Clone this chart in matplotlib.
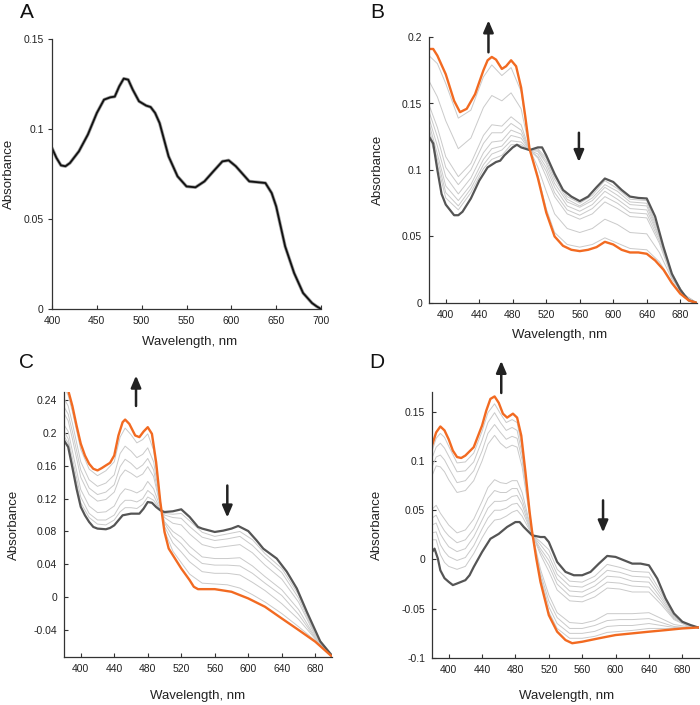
import matplotlib
matplotlib.use('Agg')
import matplotlib.pyplot as plt

plt.rcParams['font.family'] = ['Liberation Sans', 'DejaVu Sans']
plt.rcParams['axes.unicode_minus'] = False

# ---------------- Panel A ----------------
A_WL = [400, 405, 410, 415, 420, 430, 440, 450, 458, 465, 470, 475, 480, 485, 490, 497,
        505, 510, 515, 520, 530, 540, 550, 560, 570, 580, 590, 597, 605, 615, 620, 630,
        638, 645, 650, 655, 660, 665, 670, 680, 690, 695, 700]
A_ABS = [0.0894, 0.0839, 0.0798, 0.0793, 0.0811, 0.0876, 0.0969, 0.1089, 0.1163, 0.1176,
         0.118, 0.1237, 0.128, 0.1274, 0.1219, 0.1154, 0.113, 0.1122, 0.1089, 0.1033,
         0.0848, 0.0737, 0.0681, 0.0676, 0.0709, 0.0765, 0.082, 0.0826, 0.0793, 0.0737,
         0.0709, 0.0704, 0.070, 0.0644, 0.057, 0.0459, 0.0348, 0.0274, 0.020, 0.0089,
         0.0033, 0.0015, 0.0]

# ---------------- Panel B ----------------
B_O_WL = [380, 385, 390, 400, 410, 417, 425, 435, 445, 450, 455, 460, 467, 472, 478, 484,
          490, 495, 500, 510, 520, 530, 540, 550, 560, 570, 580, 590, 600, 610, 620, 630,
          640, 650, 660, 670, 680, 690, 700]
B_O = [0.191, 0.191, 0.186, 0.172, 0.152, 0.1435, 0.146, 0.157, 0.175, 0.1825, 0.185, 0.183,
       0.176, 0.178, 0.1825, 0.178, 0.162, 0.140, 0.116, 0.094, 0.068, 0.050, 0.043, 0.040,
       0.039, 0.040, 0.042, 0.046, 0.044, 0.040, 0.038, 0.038, 0.037, 0.032, 0.025, 0.015,
       0.007, 0.002, 0.0]
B_K_WL = [380, 385, 390, 395, 400, 410, 415, 420, 430, 440, 450, 460, 465, 470, 480, 485,
          490, 500, 510, 515, 520, 530, 540, 550, 560, 570, 580, 590, 600, 610, 620, 630,
          640, 650, 660, 670, 680, 690, 700]
B_K = [0.125, 0.120, 0.100, 0.082, 0.074, 0.066, 0.066, 0.0686, 0.0786, 0.092, 0.102, 0.106,
       0.107, 0.111, 0.117, 0.119, 0.117, 0.115, 0.117, 0.117, 0.111, 0.097, 0.085, 0.080,
       0.0766, 0.080, 0.087, 0.0936, 0.091, 0.085, 0.080, 0.079, 0.0786, 0.065, 0.042, 0.022,
       0.010, 0.002, 0.0]
B_G_WL = [380, 390, 400, 415, 430, 445, 455, 467, 478, 490, 500, 510, 520, 530, 545, 560,
          575, 590, 605, 620, 640, 655, 670, 685, 700]
B_G1 = [.186, .180, .165, .139, .145, .170, .179, .171, .177, .159, .116, .096, .071, .053, .044, .042, .044, .049, .045, .041, .040, .031, .016, .004, 0]
B_G2 = [.167, .155, .137, .116, .124, .147, .156, .152, .158, .146, .116, .102, .084, .067, .056, .053, .056, .063, .059, .053, .052, .038, .018, .005, 0]
B_G3 = [.149, .132, .110, .095, .105, .126, .134, .133, .140, .134, .115, .109, .095, .080, .067, .063, .067, .076, .071, .065, .064, .045, .019, .005, 0]
B_G4 = [.144, .125, .102, .089, .100, .120, .128, .128, .135, .130, .115, .110, .099, .083, .070, .066, .071, .080, .075, .068, .067, .047, .020, .005, 0]
B_G5 = [.139, .118, .095, .082, .094, .113, .121, .122, .130, .127, .115, .112, .102, .087, .073, .069, .074, .084, .078, .071, .070, .049, .021, .006, 0]
B_G6 = [.135, .112, .088, .077, .089, .108, .116, .118, .126, .124, .115, .114, .105, .090, .076, .072, .077, .087, .081, .074, .073, .050, .021, .006, 0]
B_G7 = [.131, .108, .083, .073, .086, .104, .112, .115, .122, .121, .115, .115, .107, .093, .078, .073, .079, .089, .084, .076, .075, .052, .021, .006, 0]
B_G8 = [.128, .104, .079, .070, .083, .101, .108, .111, .119, .119, .115, .116, .109, .095, .080, .075, .081, .092, .086, .078, .077, .053, .022, .006, 0]

# ---------------- Panel C ----------------
C_O_WL = [380, 385, 390, 395, 400, 405, 410, 415, 420, 425, 430, 435, 440, 445, 450, 453,
          458, 465, 470, 475, 480, 485, 490, 495, 500, 505, 510, 520, 530, 535, 540, 560,
          580, 600, 620, 640, 660, 680, 700]
C_O = [0.262, 0.252, 0.233, 0.209, 0.187, 0.1726, 0.1625, 0.1564, 0.1544, 0.1572, 0.1605,
       0.1637, 0.1726, 0.197, 0.2132, 0.2164, 0.2111, 0.197, 0.195, 0.2018, 0.2071, 0.199,
       0.1645, 0.1159, 0.0794, 0.0592, 0.0511, 0.0349, 0.0207, 0.0126, 0.0097, 0.0097,
       0.0065, -0.0016, -0.0118, -0.026, -0.040, -0.0543, -0.0725]
C_K_WL = [380, 385, 390, 395, 400, 405, 410, 415, 420, 430, 435, 440, 445, 450, 460, 470,
          475, 480, 485, 490, 495, 500, 510, 520, 530, 540, 545, 560, 570, 580, 588, 600,
          610, 618, 634, 646, 658, 670, 686, 700]
C_K = [0.191, 0.183, 0.158, 0.132, 0.110, 0.0997, 0.0916, 0.0855, 0.0835, 0.0827, 0.0843,
       0.0875, 0.0936, 0.0997, 0.1017, 0.1017, 0.1078, 0.1159, 0.115, 0.1098, 0.1058, 0.1037,
       0.1046, 0.107, 0.0977, 0.0855, 0.0835, 0.0794, 0.081, 0.0835, 0.0867, 0.0805, 0.069,
       0.059, 0.047, 0.031, 0.0105, -0.018, -0.054, -0.0713]
C_G_WL = [380, 385, 390, 400, 410, 420, 430, 440, 447, 453, 460, 467, 474, 480, 487, 493,
          500, 510, 520, 530, 545, 560, 575, 590, 605, 620, 640, 660, 680, 700]
C_G1 = [.256, .246, .226, .180, .156, .148, .154, .165, .195, .206, .198, .188, .192, .199, .179, .133, .081, .056, .042, .028, .017, .016, .015, .011, .003, -.006, -.020, -.036, -.053, -.072]
C_G2 = [.242, .233, .212, .165, .143, .135, .139, .149, .175, .184, .178, .170, .174, .182, .165, .127, .086, .066, .055, .043, .031, .029, .029, .027, .018, .008, -.008, -.027, -.051, -.072]
C_G3 = [.232, .223, .202, .155, .133, .125, .128, .137, .159, .168, .163, .156, .161, .169, .155, .123, .090, .074, .065, .053, .041, .039, .039, .038, .029, .017, .002, -.021, -.050, -.072]
C_G4 = [.224, .215, .193, .146, .125, .117, .119, .128, .147, .155, .151, .146, .150, .159, .147, .120, .092, .080, .073, .062, .049, .047, .047, .048, .038, .025, .009, -.015, -.049, -.072]
C_G5 = [.210, .202, .178, .131, .111, .103, .104, .111, .125, .132, .130, .127, .131, .141, .132, .115, .097, .090, .088, .077, .064, .060, .062, .064, .054, .039, .022, -.006, -.047, -.072]
C_G6 = [.202, .193, .169, .122, .102, .094, .094, .100, .112, .118, .118, .116, .120, .130, .124, .111, .100, .097, .096, .086, .073, .069, .071, .074, .063, .048, .030, -.001, -.046, -.072]
C_G7 = [.196, .188, .163, .115, .097, .089, .088, .094, .104, .109, .109, .108, .113, .122, .118, .109, .102, .101, .102, .093, .079, .074, .077, .080, .070, .053, .035, .003, -.045, -.072]

# ---------------- Panel D ----------------
D_O_WL = [380, 385, 390, 395, 400, 405, 410, 415, 420, 430, 440, 445, 450, 455, 460, 465,
          470, 477, 482, 487, 492, 497, 500, 505, 510, 520, 530, 540, 548, 560, 580, 600,
          620, 640, 660, 680, 700]
D_O = [0.1156, 0.129, 0.135, 0.131, 0.122, 0.1105, 0.104, 0.103, 0.1055, 0.114, 0.136,
       0.151, 0.163, 0.1655, 0.159, 0.148, 0.144, 0.148, 0.144, 0.1257, 0.0886, 0.048, 0.028,
       0.001, -0.0227, -0.0565, -0.0733, -0.0818, -0.085, -0.0835, -0.080, -0.0767, -0.075,
       -0.0733, -0.0717, -0.070, -0.069]
D_K_WL = [380, 383, 387, 390, 395, 400, 405, 410, 420, 425, 430, 440, 450, 460, 470, 480,
          485, 490, 500, 510, 515, 520, 530, 540, 550, 560, 570, 580, 590, 600, 610, 620,
          630, 640, 650, 660, 670, 680, 690, 700]
D_K = [0.0076, 0.011, 0.001, -0.011, -0.019, -0.0227, -0.026, -0.0244, -0.021, -0.016,
       -0.0076, 0.0076, 0.021, 0.026, 0.033, 0.038, 0.038, 0.033, 0.0245, 0.0228, 0.0228,
       0.0177, -0.0025, -0.0126, -0.016, -0.016, -0.0126, -0.0042, 0.0036, 0.0026, -0.0008,
       -0.0042, -0.0042, -0.0059, -0.0194, -0.0396, -0.0548, -0.0632, -0.0666, -0.0693]
D_G_WL = [380, 385, 390, 395, 400, 410, 420, 430, 440, 447, 455, 462, 469, 476, 482, 488,
          493, 500, 510, 520, 530, 545, 560, 575, 590, 605, 620, 640, 655, 670, 685, 700]
D_G1 = [.110, .123, .128, .124, .115, .098, .099, .108, .130, .149, .158, .148, .139, .142, .139, .113, .078, .028, -.020, -.053, -.070, -.080, -.080, -.078, -.074, -.073, -.072, -.070, -.070, -.070, -.070, -.069]
D_G2 = [.103, .114, .118, .113, .105, .089, .090, .099, .121, .139, .149, .139, .131, .134, .131, .107, .074, .028, -.017, -.048, -.065, -.075, -.075, -.073, -.068, -.067, -.067, -.065, -.067, -.069, -.069, -.069]
D_G3 = [.094, .104, .106, .101, .093, .078, .080, .090, .110, .128, .137, .129, .122, .125, .123, .101, .070, .027, -.014, -.042, -.059, -.070, -.070, -.067, -.062, -.061, -.061, -.060, -.064, -.068, -.069, -.069]
D_G4 = [.085, .095, .094, .089, .081, .068, .070, .080, .100, .117, .126, .118, .113, .116, .114, .094, .066, .027, -.010, -.036, -.054, -.064, -.065, -.062, -.055, -.055, -.055, -.054, -.060, -.066, -.068, -.069]
D_G5 = [.051, .055, .047, .041, .035, .027, .030, .041, .059, .073, .081, .078, .077, .080, .080, .068, .051, .026, .005, -.012, -.031, -.042, -.043, -.038, -.029, -.030, -.033, -.033, -.046, -.061, -.067, -.069]
D_G6 = [.042, .045, .036, .029, .024, .017, .020, .031, .049, .062, .070, .068, .068, .072, .072, .061, .047, .026, .008, -.006, -.025, -.037, -.038, -.032, -.023, -.024, -.027, -.028, -.043, -.060, -.067, -.069]
D_G7 = [.035, .037, .026, .019, .013, .008, .011, .023, .040, .052, .059, .059, .060, .064, .065, .056, .043, .025, .011, -.001, -.020, -.032, -.033, -.027, -.017, -.018, -.022, -.023, -.040, -.059, -.066, -.069]
D_G8 = [.027, .028, .015, .008, .003, -.001, .002, .014, .031, .042, .050, .050, .052, .056, .057, .050, .040, .025, .015, .004, -.015, -.027, -.028, -.022, -.011, -.013, -.017, -.018, -.037, -.058, -.066, -.069]
D_G9 = [.020, .020, .005, -.003, -.007, -.010, -.007, .006, .022, .032, .040, .041, .044, .048, .050, .044, .036, .025, .018, .010, -.010, -.022, -.023, -.017, -.005, -.008, -.012, -.013, -.034, -.057, -.066, -.069]

# ticks
A_XT = [400, 450, 500, 550, 600, 650, 700]
A_YT = [0, 0.05, 0.1, 0.15]
A_YL = ['0', '0.05', '0.1', '0.15']
BCD_XT = [400, 440, 480, 520, 560, 600, 640, 680]
B_YT = [0, 0.05, 0.1, 0.15, 0.2]
B_YL = ['0', '0.05', '0.1', '0.15', '0.2']
C_YT = [-0.04, 0, 0.04, 0.08, 0.12, 0.16, 0.2, 0.24]
C_YL = ['-0.04', '0', '0.04', '0.08', '0.12', '0.16', '0.2', '0.24']
D_YT = [-0.1, -0.05, 0, 0.05, 0.1, 0.15]
D_YL = ['-0.1', '-0.05', '0', '0.05', '0.1', '0.15']

ORANGE = '#f26a21'
DARK = '#555555'
GREY = '#cacaca'
SPINE = '#333333'

fig = plt.figure(figsize=(7.0, 7.05), dpi=100)
W, H = 700.0, 705.0

def make_ax(l, r, t, b):
    return fig.add_axes([l / W, (H - b) / H, (r - l) / W, (b - t) / H])

def style(ax, xlim, ylim, xt, yt, yl, ylab_x, xlab_y, xlab_x, ydir='in'):
    ax.set_xlim(*xlim)
    ax.set_ylim(*ylim)
    for s in ['top', 'right']:
        ax.spines[s].set_visible(False)
    for s in ['left', 'bottom']:
        ax.spines[s].set_color(SPINE)
        ax.spines[s].set_linewidth(0.9)
    ax.set_xticks(xt)
    ax.set_xticklabels([str(v) for v in xt])
    ax.set_yticks(yt)
    ax.set_yticklabels(yl)
    ax.tick_params(length=3, width=0.8, colors=SPINE,
                   labelsize=7.5, labelcolor='#222222', pad=5)
    ax.tick_params(axis='x', direction='in')
    ax.tick_params(axis='y', direction=ydir, pad=5 if ydir == 'in' else 3)
    ax.set_ylabel('Absorbance', fontsize=9.5, color='#222222')
    ax.set_xlabel('Wavelength, nm', fontsize=9.5, color='#222222')
    ax.yaxis.set_label_coords(ylab_x, 0.5)
    ax.xaxis.set_label_coords(xlab_x, xlab_y)

def arrow(ax, x, y0, y1):
    ax.annotate('', xy=(x, y1), xytext=(x, y0), xycoords='data',
                annotation_clip=False,
                arrowprops=dict(arrowstyle='-|>,head_length=0.7,head_width=0.3',
                                color='#222222', lw=1.8, shrinkA=0, shrinkB=0))

# Panel A
axA = make_ax(52, 321, 39, 309)
axA.plot(A_WL, A_ABS, color='#a0a0a0', lw=2.4, solid_capstyle='round')
axA.plot(A_WL, A_ABS, color='#111111', lw=1.3)
style(axA, (400, 700), (0, 0.15), A_XT, A_YT, A_YL, -0.138, -0.10, 0.511, ydir='out')

# Panel B
axB = make_ax(429, 697, 37, 303)
for g in [B_G1, B_G2, B_G3, B_G4, B_G5, B_G6, B_G7, B_G8]:
    axB.plot(B_G_WL, g, color=GREY, lw=0.7)
axB.plot(B_K_WL, B_K, color=DARK, lw=1.6)
axB.plot(B_O_WL, B_O, color=ORANGE, lw=1.7)
style(axB, (380, 700), (0, 0.2), BCD_XT, B_YT, B_YL, -0.168, -0.098, 0.489)
arrow(axB, 451, 0.1885, 0.2125)
arrow(axB, 559, 0.128, 0.106)

# Panel C
axC = make_ax(64, 332, 392, 657)
for g in [C_G1, C_G2, C_G3, C_G4, C_G5, C_G6, C_G7]:
    axC.plot(C_G_WL, g, color=GREY, lw=0.7)
axC.plot(C_K_WL, C_K, color=DARK, lw=1.6)
axC.plot(C_O_WL, C_O, color=ORANGE, lw=1.7)
style(axC, (380, 700), (-0.073, 0.25), BCD_XT, C_YT, C_YL, -0.164, -0.1245, 0.5)
arrow(axC, 466, 0.233, 0.270)
arrow(axC, 575, 0.136, 0.097)

# Panel D
axD = make_ax(432, 699, 392, 658)
for g in [D_G1, D_G2, D_G3, D_G4, D_G5, D_G6, D_G7, D_G8, D_G9]:
    axD.plot(D_G_WL, g, color=GREY, lw=0.7)
axD.plot(D_K_WL, D_K, color=DARK, lw=1.6)
axD.plot(D_O_WL, D_O, color=ORANGE, lw=1.7)
style(axD, (380, 700), (-0.1, 0.17), BCD_XT, D_YT, D_YL, -0.183, -0.120, 0.505)
arrow(axD, 463, 0.169, 0.2016)
arrow(axD, 585, 0.060, 0.0275)

# Panel letters
for lab, x, y in [('A', 27, 12), ('B', 377, 12), ('C', 26, 362), ('D', 377, 362)]:
    fig.text(x / W, 1 - y / H, lab, fontsize=15, ha='center', va='center', color='#111111')

fig.savefig('out.png', dpi=100)
